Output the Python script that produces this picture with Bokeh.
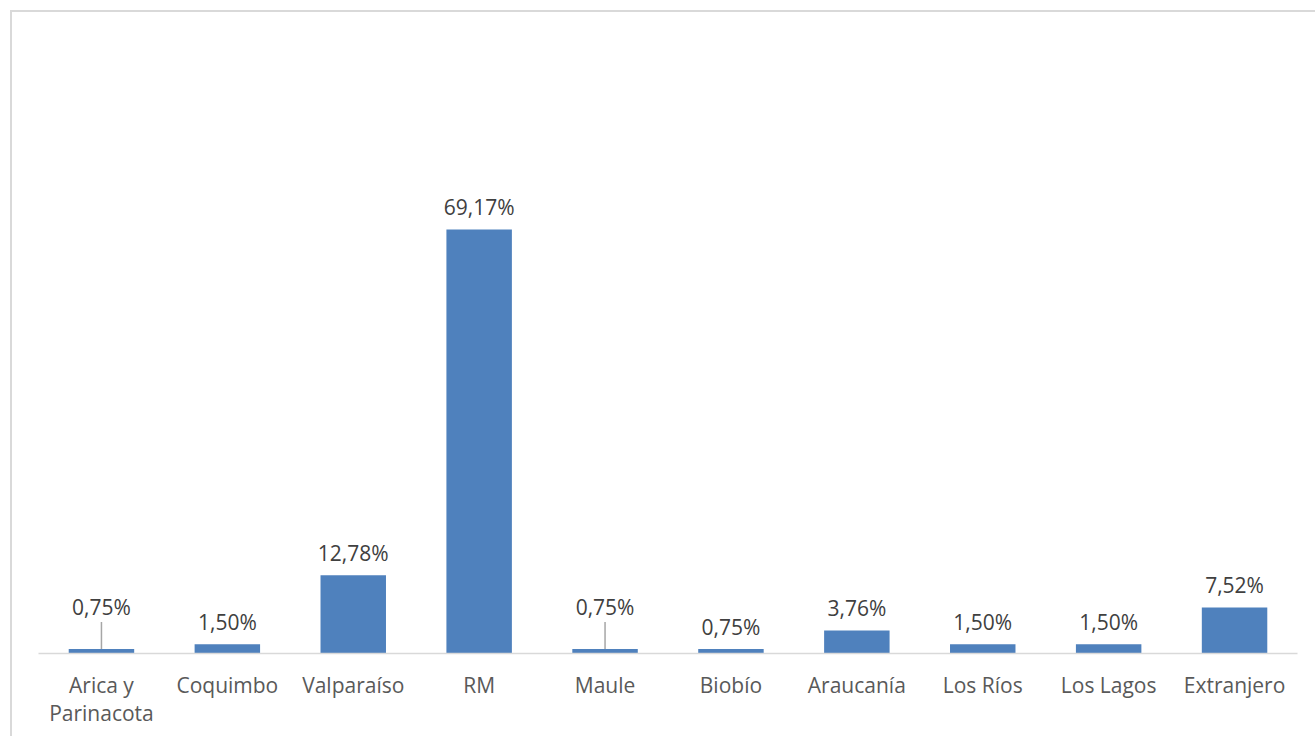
from bokeh.plotting import figure
from bokeh.models import ColumnDataSource, FactorRange, Range1d
from bokeh.core.properties import value
from bokeh.embed import file_html
from bokeh.resources import INLINE

regions = ["Arica y\nParinacota", "Coquimbo", "Valparaíso", "RM", "Maule",
           "Biobío", "Araucanía", "Los Ríos", "Los Lagos", "Extranjero"]
percent = [0.75, 1.50, 12.78, 69.17, 0.75, 0.75, 3.76, 1.50, 1.50, 7.52]
labels = ["0,75%", "1,50%", "12,78%", "69,17%", "0,75%", "0,75%", "3,76%", "1,50%", "1,50%", "7,52%"]
leader = [True, False, False, False, True, False, False, False, False, False]

W, H = 1315, 736
top, bottom, left, right = 40, 83, 38, 18
frame_h = H - top - bottom
ymax = 100.0
ppu = frame_h / ymax

offsets = [-42 if l else -22 for l in leader]
src = ColumnDataSource(dict(x=regions, y=percent, lab=labels, off=offsets))

p = figure(width=W, height=H, x_range=FactorRange(*regions, range_padding=0),
           y_range=Range1d(0, ymax), output_backend="svg", toolbar_location=None,
           min_border_left=left, min_border_right=right, min_border_top=top,
           min_border_bottom=bottom)
p.outline_line_color = None
p.border_fill_color = None
p.background_fill_color = None
p.styles = {
    "background": "linear-gradient(#d9d9d9, #d9d9d9) 10px 10px / 100% 2px no-repeat, "
                  "linear-gradient(#d9d9d9, #d9d9d9) 10px 10px / 2px 100% no-repeat, #ffffff"
}
p.grid.visible = False
p.yaxis.visible = False
p.vbar(x="x", top="y", width=0.52, source=src, color="#4f81bd", line_color=None)
p.text(x="x", y="y", text="lab", y_offset="off", source=src, text_align="center",
       text_baseline="alphabetic", text_font=value("Open Sans"), text_font_size="21px",
       text_color="#404040")

lx = [r for r, l in zip(regions, leader) if l]
ly0 = [v for v, l in zip(percent, leader) if l]
ly1 = [v + 27 / ppu for v, l in zip(percent, leader) if l]
p.segment(x0=lx, y0=ly0, x1=lx, y1=ly1, line_color="#a6a6a6", line_width=1.5)

ax = p.xaxis[0]
ax.axis_line_color = "#d9d9d9"
ax.axis_line_width = 1.5
ax.major_tick_line_color = None
ax.minor_tick_line_color = None
ax.major_label_standoff = 11
ax.major_label_text_font = "Open Sans"
ax.major_label_text_font_size = "21px"
ax.major_label_text_color = "#595959"
ax.major_label_text_line_height = 1.0

open("out.html", "w").write(file_html(p, INLINE))
